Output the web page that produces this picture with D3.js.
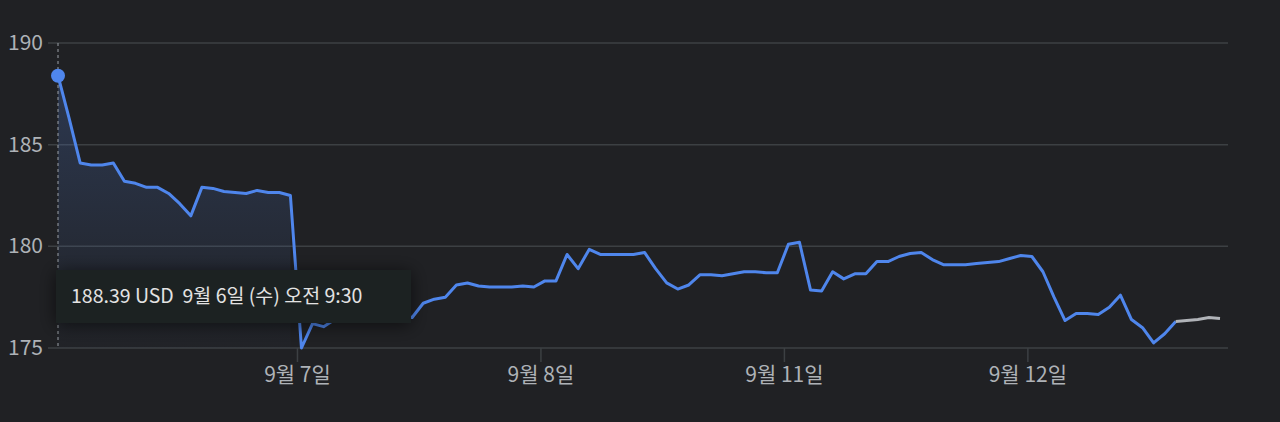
<!DOCTYPE html>
<html><head><meta charset="utf-8">
<script src="https://cdn.jsdelivr.net/npm/d3@7"></script>
<style>
body{margin:0;background:#202124;}
svg{display:block;font-family:"Noto Sans CJK KR","Noto Sans",sans-serif;}
</style></head>
<body><svg id="chart" width="1280" height="422"></svg>
<script>
// prices per trading day, regular session
var day1 = [188.39,186.3,184.1,184.0,184.0,184.1,183.2,183.1,182.9,182.9,182.6,182.1,181.5,182.9,182.85,182.7,182.65,182.6,182.75,182.65,182.65,182.5];
var day2 = [175.0,176.2,176.05,176.4,176.7,176.9,177.0,176.9,176.8,176.6,176.5,177.2,177.4,177.5,178.1,178.2,178.05,178.0,178.0,178.0,178.05,178.0];
var day3 = [178.3,178.3,179.6,178.9,179.85,179.6,179.6,179.6,179.6,179.7,178.9,178.2,177.9,178.1,178.6,178.6,178.55,178.65,178.75,178.75,178.7,178.7];
var day4 = [180.1,180.2,177.85,177.8,178.75,178.4,178.65,178.65,179.25,179.25,179.5,179.65,179.7,179.35,179.1,179.1,179.1,179.15,179.2,179.25,179.4,179.55];
var day5 = [179.5,178.75,177.5,176.35,176.7,176.7,176.65,177.0,177.6,176.4,176.0,175.25,175.7,176.3];
var afterHours = [176.35,176.4,176.5,176.45];
var dayLabels = ["9월 7일","9월 8일","9월 11일","9월 12일"];
var yTicks = [175,180,185,190];
var tooltipText = "188.39 USD  9월 6일 (수) 오전 9:30";

var days = [day1, day2, day3, day4, day5];
var regular = [].concat.apply([], days);
var pts = regular.map(function (v, i) { return {i: i, v: v}; });
var ah = [{i: regular.length - 1, v: regular[regular.length - 1]}].concat(
  afterHours.map(function (v, k) { return {i: regular.length + k, v: v}; }));
var starts = [], acc = 0;
days.forEach(function (d) { starts.push(acc); acc += d.length; });

var svg = d3.select("#chart");
var x = d3.scaleLinear().domain([0, regular.length + afterHours.length - 1]).range([58, 1220]);
var y = d3.scaleLinear().domain([175, 190]).range([348, 43]);

var defs = svg.append("defs");
var g = defs.append("linearGradient").attr("id", "fill").attr("x1", 0).attr("y1", 0).attr("x2", 0).attr("y2", 1);
g.append("stop").attr("offset", "0%").attr("stop-color", "#4a6fb8").attr("stop-opacity", 0.3);
g.append("stop").attr("offset", "100%").attr("stop-color", "#4a6fb8").attr("stop-opacity", 0.02);
var f = defs.append("filter").attr("id", "sh").attr("x", "-20%").attr("y", "-50%").attr("width", "140%").attr("height", "200%");
f.append("feDropShadow").attr("dx", 0).attr("dy", 2).attr("stdDeviation", 9).attr("flood-color", "#000").attr("flood-opacity", 0.6);

// grid
svg.append("g").selectAll("line").data(yTicks).join("line")
  .attr("x1", 48).attr("x2", 1228).attr("y1", function (d) { return y(d); }).attr("y2", function (d) { return y(d); })
  .attr("stroke", "#3c4043").attr("stroke-width", 1.5);
svg.append("g").selectAll("text").data(yTicks).join("text")
  .attr("x", 8).attr("y", function (d) { return y(d) + 7; })
  .attr("fill", "#aeb2b7").attr("font-size", 21).text(function (d) { return d; });

// x ticks
var tickIdx = starts.slice(1);
svg.append("g").selectAll("line").data(tickIdx).join("line")
  .attr("x1", function (d) { return x(d) - 4; }).attr("x2", function (d) { return x(d) - 4; })
  .attr("y1", 348).attr("y2", 362).attr("stroke", "#3c4043").attr("stroke-width", 1.5);
svg.append("g").selectAll("text").data(tickIdx).join("text")
  .attr("x", function (d) { return x(d) - 4; }).attr("y", 382).attr("text-anchor", "middle")
  .attr("fill", "#aeb2b7").attr("font-size", 21).text(function (d, k) { return dayLabels[k]; });

// area under first day
var first = pts.slice(0, day1.length);
svg.append("path").datum(first)
  .attr("d", d3.area().x(function (d) { return x(d.i); }).y0(348).y1(function (d) { return y(d.v); }))
  .attr("fill", "url(#fill)");

svg.append("line").attr("x1", x(0)).attr("x2", x(0)).attr("y1", 43).attr("y2", 348)
  .attr("stroke", "#9aa0a6").attr("stroke-dasharray", "3,3").attr("stroke-width", 1);

var line = d3.line().x(function (d) { return x(d.i); }).y(function (d) { return y(d.v); });
svg.append("path").datum(pts).attr("d", line).attr("fill", "none")
  .attr("stroke", "#4f86ec").attr("stroke-width", 3).attr("stroke-linejoin", "round");
svg.append("path").datum(ah).attr("d", line).attr("fill", "none")
  .attr("stroke", "#b0b3b8").attr("stroke-width", 3);
svg.append("circle").attr("cx", x(0)).attr("cy", y(day1[0])).attr("r", 7).attr("fill", "#4f86ec");

// tooltip
var tt = svg.append("g");
tt.append("rect").attr("x", 56).attr("y", 270).attr("width", 355).attr("height", 53)
  .attr("fill", "#1f2023").attr("filter", "url(#sh)");
tt.append("text").attr("x", 71).attr("y", 303).attr("fill", "#e3e3e3").attr("font-size", 19.5)
  .attr("xml:space", "preserve").style("white-space", "pre").text(tooltipText);
</script></body></html>
